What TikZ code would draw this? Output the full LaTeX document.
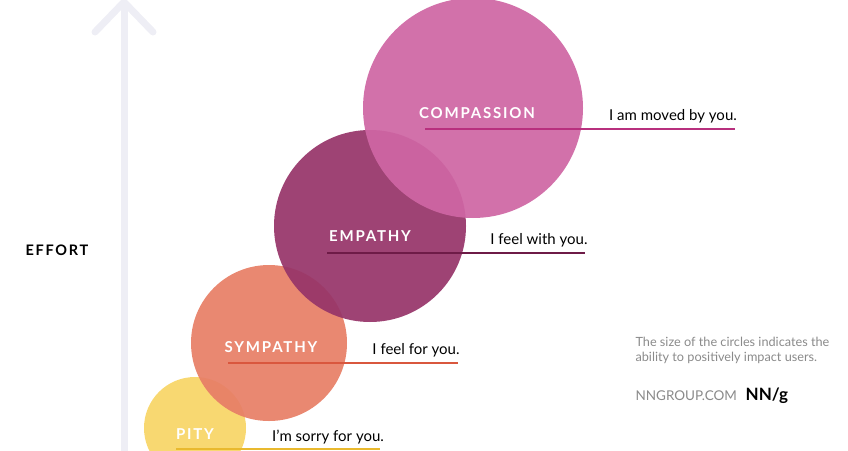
\documentclass[tikz,border=0pt]{standalone}
\usepackage{fontspec}
\setmainfont{Lato}
\newfontfamily\capsfont[LetterSpace=12]{Lato Bold}
\usetikzlibrary{positioning}
\definecolor{cCompassion}{HTML}{CF66A4}
\definecolor{cEmpathy}{HTML}{973569}
\definecolor{cSympathy}{HTML}{E77F66}
\definecolor{cPity}{HTML}{F8D566}
\definecolor{lCompassion}{HTML}{B8307E}
\definecolor{lEmpathy}{HTML}{6E1B47}
\definecolor{lSympathy}{HTML}{D9573E}
\definecolor{lPity}{HTML}{E9B92E}
\definecolor{axisgray}{HTML}{EEEEF5}
\definecolor{notegray}{HTML}{8A8A8A}
\tikzset{
  bubble/.style={circle, inner sep=0pt, fill opacity=0.93, text opacity=1},
  level/.style={font=\capsfont\fontsize{15}{16}\selectfont, text=white},
  phrase/.style={font=\fontsize{15}{16}\selectfont, text=black},
  underline/.style={line width=2.2pt},
}
\begin{document}
\begin{tikzpicture}[x=1pt,y=-1pt]
\useasboundingbox (0,0) rectangle (848,450);

% Effort axis
\coordinate (axisbottom) at (124,452);
\coordinate (axistop) at (124,2);
\draw [axisgray, line width=7pt] (axisbottom) -- (axistop);
\draw [axisgray, line width=7pt, line cap=round, line join=round] (95,32) -- (axistop) -- (153,32);
\node (effort) at (57,250) {\capsfont\fontsize{14.5}{15}\selectfont EFFORT};

% Circles
\node [bubble, fill=cPity, minimum size=102pt] (pity) at (195,428) {};
\node [bubble, fill=cSympathy, minimum size=156pt] (sympathy) at (269,343) {};
\node [bubble, fill=cEmpathy, minimum size=192pt] (empathy) at (370,226) {};
\node [bubble, fill=cCompassion, minimum size=220pt] (compassion) at (473,108) {};

% Underlines
\coordinate (pityA) at (176,449); \coordinate (pityB) at (380,449);
\coordinate (symA) at (228,363); \coordinate (symB) at (458,363);
\coordinate (empA) at (327,253); \coordinate (empB) at (585,253);
\coordinate (comA) at (425,129); \coordinate (comB) at (735,129);
\draw [underline, lPity] (pityA) -- (pityB);
\draw [underline, lSympathy] (symA) -- (symB);
\draw [underline, lEmpathy] (empA) -- (empB);
\draw [underline, lCompassion] (comA) -- (comB);

% Labels
\node [level] (pitylabel) at (195,434) {PITY};
\node [level] (symlabel) at (271,347) {SYMPATHY};
\node [level] (emplabel) at (370,236) {EMPATHY};
\node [level] (comlabel) at (477,113) {COMPASSION};
\node [phrase] (pityphrase) at (328,437) {I’m sorry for you.};
\node [phrase] (symphrase) at (416,350) {I feel for you.};
\node [phrase] (empphrase) at (539,240) {I feel with you.};
\node [phrase] (comphrase) at (673,116) {I am moved by you.};

% Note
\node [anchor=west, align=left, text=notegray, font=\fontsize{12.7}{15}\selectfont] (note) at (632,350)
  {The size of the circles indicates the\\ability to positively impact users.};
\node [anchor=west, text=notegray, font=\fontsize{13.5}{14}\selectfont] (site) at (632,396) {NNGROUP.COM};
\node [right=4pt of site, font=\bfseries\fontsize{17}{17}\selectfont, inner sep=1pt] (logo) {NN/g};
\end{tikzpicture}
\end{document}
